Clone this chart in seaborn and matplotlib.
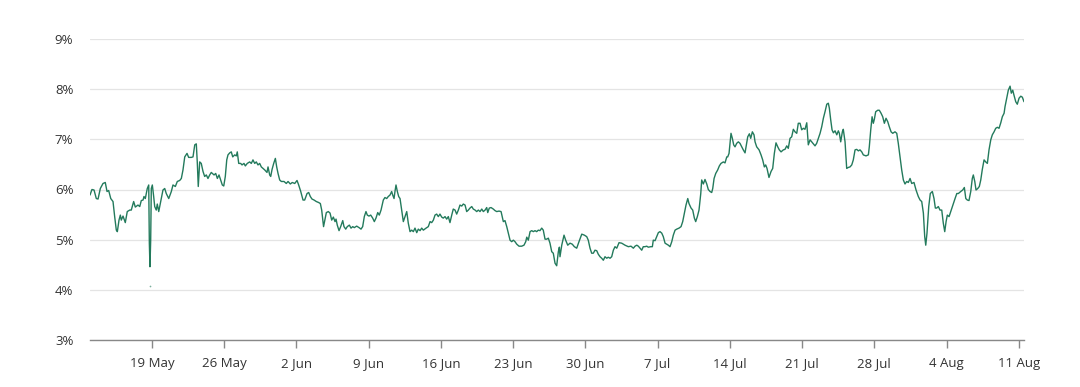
import numpy as np
import pandas as pd
import matplotlib
matplotlib.use("Agg")
import matplotlib.pyplot as plt
import matplotlib.dates as mdates
from matplotlib.ticker import FuncFormatter
import seaborn as sns

# days since 13 May 2025 00:00, and rate in %
start = pd.Timestamp("2025-05-13")
days = [
    0.00, 0.19, 0.39, 0.61, 0.78, 1.00, 1.26, 1.48, 1.65, 1.81, 2.01, 2.23, 2.39, 2.55, 2.65,
    2.81, 2.94, 3.03, 3.20, 3.42, 3.61, 3.85, 4.00, 4.23, 4.39, 4.65, 4.82, 4.97, 5.14, 5.23,
    5.36, 5.55, 5.69, 5.75, 5.81, 5.88, 5.94, 6.04, 6.17, 6.27, 6.42, 6.52, 6.66, 6.85, 7.07,
    7.24, 7.39, 7.63, 7.88, 8.04, 8.27, 8.46, 8.69, 8.85, 9.01, 9.18, 9.40, 9.56, 9.82, 9.98,
    10.15, 10.30, 10.40, 10.49, 10.63, 10.78, 10.95, 11.11, 11.27, 11.43, 11.60, 11.75, 12.02,
    12.18, 12.34, 12.50, 12.66, 12.82, 12.96, 13.11, 13.25, 13.37, 13.54, 13.69, 13.83, 14.02,
    14.18, 14.27, 14.41, 14.60, 14.73, 14.92, 15.05, 15.24, 15.47, 15.63, 15.79, 15.96, 16.11,
    16.28, 16.44, 16.60, 16.76, 16.93, 17.15, 17.25, 17.41, 17.51, 17.64, 17.80, 17.96, 18.09,
    18.22, 18.38, 18.54, 18.80, 19.02, 19.19, 19.41, 19.60, 19.84, 20.06, 20.22, 20.42, 20.64,
    20.80, 21.03, 21.19, 21.35, 21.51, 21.71, 21.93, 22.16, 22.32, 22.45, 22.63, 22.90, 23.09,
    23.26, 23.42, 23.58, 23.74, 23.84, 23.96, 24.13, 24.29, 24.49, 24.61, 24.78, 24.93, 25.13,
    25.29, 25.46, 25.61, 25.84, 26.07, 26.26, 26.42, 26.58, 26.74, 26.87, 27.03, 27.20, 27.39,
    27.55, 27.71, 27.88, 28.03, 28.20, 28.42, 28.58, 28.75, 28.90, 29.07, 29.23, 29.33, 29.46,
    29.55, 29.65, 29.78, 29.91, 30.04, 30.20, 30.36, 30.52, 30.69, 30.84, 31.01, 31.17, 31.33,
    31.49, 31.66, 31.81, 31.98, 32.14, 32.30, 32.56, 32.78, 32.95, 33.11, 33.27, 33.43, 33.59,
    33.75, 33.91, 34.08, 34.23, 34.40, 34.56, 34.72, 34.88, 35.05, 35.20, 35.37, 35.53, 35.69,
    35.85, 36.02, 36.17, 36.34, 36.50, 36.66, 36.82, 36.99, 37.14, 37.31, 37.47, 37.63, 37.79,
    37.96, 38.11, 38.28, 38.44, 38.54, 38.69, 38.86, 39.08, 39.24, 39.41, 39.63, 39.83, 40.05,
    40.21, 40.38, 40.53, 40.70, 40.86, 41.02, 41.18, 41.35, 41.57, 41.83, 42.05, 42.22, 42.32,
    42.47, 42.64, 42.80, 42.96, 43.12, 43.28, 43.44, 43.60, 43.77, 43.92, 44.09, 44.25, 44.41,
    44.57, 44.74, 44.89, 45.06, 45.22, 45.38, 45.48, 45.54, 45.71, 45.93, 46.09, 46.29, 46.51,
    46.73, 46.93, 47.16, 47.38, 47.65, 47.90, 48.13, 48.28, 48.45, 48.61, 48.77, 48.93, 49.10,
    49.25, 49.42, 49.58, 49.74, 49.90, 50.07, 50.22, 50.39, 50.55, 50.71, 50.87, 51.04, 51.26,
    51.52, 51.84, 52.16, 52.42, 52.65, 52.81, 52.98, 53.13, 53.29, 53.46, 53.61, 53.78, 53.94,
    54.10, 54.33, 54.49, 54.58, 54.75, 54.91, 55.07, 55.23, 55.40, 55.55, 55.72, 55.88, 56.04,
    56.20, 56.37, 56.52, 56.69, 56.85, 57.07, 57.27, 57.43, 57.59, 57.75, 57.92, 58.04, 58.24,
    58.40, 58.56, 58.69, 58.85, 59.01, 59.18, 59.27, 59.43, 59.59, 59.76, 59.91, 60.08, 60.24,
    60.34, 60.47, 60.63, 60.82, 60.98, 61.14, 61.37, 61.53, 61.70, 61.79, 61.92, 62.02, 62.11,
    62.24, 62.37, 62.50, 62.66, 62.82, 62.98, 63.15, 63.30, 63.47, 63.63, 63.73, 63.89, 64.02,
    64.18, 64.34, 64.44, 64.60, 64.83, 65.02, 65.18, 65.34, 65.47, 65.60, 65.79, 65.99, 66.15,
    66.31, 66.47, 66.64, 66.79, 66.96, 67.18, 67.34, 67.51, 67.66, 67.83, 67.99, 68.15, 68.31,
    68.48, 68.63, 68.80, 68.96, 69.12, 69.28, 69.45, 69.60, 69.77, 69.93, 70.09, 70.25, 70.41,
    70.57, 70.74, 70.90, 71.06, 71.22, 71.39, 71.54, 71.64, 71.77, 71.90, 72.03, 72.19, 72.36,
    72.51, 72.61, 72.74, 72.90, 72.99, 73.16, 73.32, 73.48, 73.64, 73.81, 73.96, 74.13, 74.29,
    74.45, 74.61, 74.78, 74.93, 75.19, 75.42, 75.51, 75.65, 75.78, 75.90, 76.00, 76.13, 76.33,
    76.48, 76.65, 76.81, 76.97, 77.13, 77.30, 77.45, 77.62, 77.78, 78.00, 78.17, 78.32, 78.49,
    78.65, 78.81, 78.97, 79.14, 79.29, 79.46, 79.62, 79.84, 80.04, 80.26, 80.43, 80.59, 80.75,
    80.88, 80.98, 81.10, 81.27, 81.42, 81.62, 81.78, 81.91, 82.04, 82.20, 82.36, 82.53, 82.68,
    82.82, 82.95, 83.07, 83.24, 83.40, 83.60, 83.82, 83.99, 84.14, 84.37, 84.56, 84.72, 84.86,
    85.01, 85.17, 85.34, 85.49, 85.59, 85.73, 85.85, 86.02, 86.17, 86.31, 86.46, 86.63, 86.79,
    86.95, 87.11, 87.28, 87.43, 87.60, 87.76, 87.92, 88.08, 88.25, 88.40, 88.57, 88.66, 88.83,
    88.98, 89.15, 89.27, 89.41, 89.53, 89.70, 89.85, 90.02, 90.19, 90.34, 90.50,
]
rate = [
    5.89, 6.00, 5.99, 5.82, 5.81, 6.02, 6.12, 6.14, 5.96, 5.98, 5.82, 5.76, 5.46, 5.19, 5.16,
    5.39, 5.49, 5.39, 5.47, 5.34, 5.56, 5.59, 5.59, 5.76, 5.65, 5.69, 5.66, 5.78, 5.79, 5.86,
    5.82, 6.02, 6.09, 4.93, 4.46, 4.99, 6.02, 6.09, 5.86, 5.66, 5.59, 5.71, 5.56, 5.76, 5.99,
    6.02, 5.92, 5.82, 5.96, 6.09, 6.06, 6.16, 6.18, 6.22, 6.39, 6.65, 6.72, 6.64, 6.64, 6.65,
    6.89, 6.91, 6.52, 6.06, 6.55, 6.52, 6.36, 6.26, 6.29, 6.22, 6.29, 6.34, 6.29,
    6.32, 6.22, 6.29, 6.19, 6.09, 6.07, 6.26, 6.59, 6.69, 6.73, 6.75, 6.65, 6.69,
    6.67, 6.75, 6.52, 6.52, 6.49, 6.52, 6.47, 6.52, 6.55, 6.52, 6.59, 6.52, 6.55,
    6.49, 6.52, 6.45, 6.42, 6.39, 6.34, 6.45, 6.29, 6.26, 6.40, 6.52, 6.62, 6.45,
    6.32, 6.19, 6.16, 6.16, 6.12, 6.16, 6.11, 6.14, 6.12, 6.18, 6.09, 5.96, 5.79,
    5.79, 5.92, 5.94, 5.86, 5.81, 5.79, 5.76, 5.74, 5.72, 5.59, 5.26, 5.54, 5.56,
    5.53, 5.39, 5.45, 5.36, 5.41, 5.29, 5.18, 5.26, 5.38, 5.26, 5.21, 5.26, 5.29,
    5.23, 5.26, 5.24, 5.27, 5.24, 5.21, 5.26, 5.46, 5.56, 5.49, 5.47, 5.49, 5.43,
    5.36, 5.43, 5.54, 5.49, 5.59, 5.79, 5.84, 5.82, 5.86, 5.89, 5.96, 5.89, 5.82,
    5.96, 6.09, 5.96, 5.86, 5.82, 5.59, 5.36, 5.46, 5.56, 5.33, 5.16, 5.19, 5.16,
    5.23, 5.14, 5.21, 5.18, 5.23, 5.19, 5.23, 5.26, 5.36, 5.34, 5.39, 5.49, 5.51,
    5.46, 5.51, 5.45, 5.43, 5.46, 5.41, 5.46, 5.34, 5.49, 5.61, 5.59, 5.51, 5.59,
    5.69, 5.67, 5.71, 5.69, 5.56, 5.59, 5.63, 5.66, 5.61, 5.59, 5.56, 5.59, 5.56,
    5.61, 5.56, 5.59, 5.64, 5.54, 5.63, 5.64, 5.61, 5.58, 5.56, 5.57, 5.56, 5.36,
    5.38, 5.26, 5.13, 4.99, 4.96, 4.99, 4.96, 4.91, 4.87, 4.87, 4.89, 4.96, 5.05,
    4.99, 5.16, 5.18, 5.16, 5.18, 5.16, 5.19, 5.18, 5.23, 5.19, 5.01, 5.01, 5.03,
    4.93, 4.76, 4.73, 4.53, 4.48, 4.76, 4.85, 4.66, 4.89, 5.09, 4.99, 4.89, 4.93,
    4.91, 4.86, 4.83, 4.96, 5.11, 5.09, 5.06, 4.99, 4.83, 4.73, 4.73, 4.79, 4.78,
    4.71, 4.66, 4.63, 4.59, 4.66, 4.63, 4.65, 4.63, 4.66, 4.79, 4.86, 4.83, 4.94,
    4.93, 4.89, 4.86, 4.87, 4.83, 4.87, 4.89, 4.87, 4.83, 4.79, 4.86, 4.86, 4.87,
    4.85, 4.86, 4.86, 4.99, 4.98, 5.06, 5.14, 5.16, 5.13, 5.06, 4.93, 4.91, 4.89,
    4.86, 4.96, 5.09, 5.19, 5.21, 5.23, 5.26, 5.36, 5.53, 5.69, 5.82, 5.72, 5.63,
    5.59, 5.43, 5.36, 5.46, 5.59, 5.92, 6.19, 6.11, 6.20, 6.11, 6.00, 5.96, 5.94,
    6.02, 6.22, 6.32, 6.39, 6.47, 6.52, 6.55, 6.53, 6.65, 6.65, 6.72, 6.92, 7.12,
    7.02, 6.89, 6.85, 6.92, 6.95, 6.92, 6.85, 6.79, 6.73, 6.92, 7.05, 7.11, 7.02,
    7.15, 7.09, 6.95, 6.85, 6.79, 6.69, 6.59, 6.45, 6.49, 6.42, 6.24, 6.36, 6.42,
    6.72, 6.93, 6.85, 6.79, 6.75, 6.79, 6.80, 6.87, 6.82, 7.02, 7.05, 7.20, 7.15,
    7.12, 7.32, 7.32, 7.19, 7.22, 7.20, 7.33, 6.89, 6.99, 6.95, 6.91, 6.87, 6.92,
    7.02, 7.12, 7.25, 7.42, 7.55, 7.70, 7.72, 7.62, 7.39, 7.19, 7.13, 7.17, 7.09,
    7.17, 7.12, 6.95, 7.15, 7.20, 6.95, 6.42, 6.44, 6.45, 6.49, 6.59, 6.79, 6.80,
    6.77, 6.79, 6.75, 6.69, 6.67, 6.69, 6.85, 7.19, 7.45, 7.32, 7.40, 7.55, 7.58,
    7.58, 7.52, 7.45, 7.32, 7.42, 7.35, 7.25, 7.15, 7.12, 7.15, 7.12, 6.92, 6.65,
    6.39, 6.19, 6.11, 6.16, 6.14, 6.22, 6.12, 6.14, 5.99, 5.86, 5.79, 5.76, 5.53,
    5.06, 4.89, 5.13, 5.66, 5.92, 5.96, 5.82, 5.63, 5.63, 5.66, 5.59, 5.59, 5.33,
    5.16, 5.36, 5.49, 5.46, 5.56, 5.69, 5.82, 5.92, 5.92, 5.96, 5.99, 6.04, 5.82,
    5.79, 5.78, 5.96, 6.22, 6.29, 6.16, 5.99, 6.02, 6.06, 6.19, 6.40, 6.59, 6.55,
    6.52, 6.79, 6.99, 7.09, 7.15, 7.22, 7.24, 7.22, 7.33, 7.45, 7.52, 7.65, 7.82,
    7.98, 8.06, 7.92, 7.98, 7.88, 7.75, 7.70, 7.82, 7.86, 7.84, 7.75,
]
# lone reading drawn as a dot below the 19 May dip
stray_day = [5.86]
stray_rate = [4.08]

y_ticks = [3, 4, 5, 6, 7, 8, 9]
x_end_day = 90.5

df = pd.DataFrame({"time": start + pd.to_timedelta(days, unit="D"), "rate": rate})
stray = pd.DataFrame({"time": start + pd.to_timedelta(stray_day, unit="D"), "rate": stray_rate})

sns.set_theme(style="white")
plt.rcParams["font.family"] = ["Open Sans", "DejaVu Sans"]

line_color = "#237a5c"

fig = plt.figure(figsize=(10.8, 3.87), dpi=100)
ax = fig.add_axes([90 / 1080, 1 - 340 / 387, (1024 - 90) / 1080, (340 - 39) / 387])

sns.lineplot(data=df, x="time", y="rate", ax=ax, color=line_color,
             linewidth=1.0, estimator=None, sort=False)
sns.scatterplot(data=stray, x="time", y="rate", ax=ax, color=line_color,
                s=1.5, linewidth=0, alpha=0.6)

ax.set_xlim(start, start + pd.Timedelta(days=x_end_day))
ax.set_ylim(y_ticks[0], y_ticks[-1])
ax.set_yticks(y_ticks)
ax.yaxis.set_major_formatter(FuncFormatter(lambda v, _: f"{v:.0f}%"))
ax.grid(True, axis="y", color="#e4e4e4", linewidth=0.9)
ax.grid(False, axis="x")

ax.xaxis.set_major_locator(mdates.WeekdayLocator(byweekday=mdates.MO))
ax.xaxis.set_major_formatter(mdates.DateFormatter("%-d %b"))

for side in ["top", "right", "left"]:
    ax.spines[side].set_visible(False)
ax.spines["bottom"].set_color("#888888")
ax.spines["bottom"].set_linewidth(1.0)

ax.tick_params(axis="x", length=6, width=1.0, color="#888888", pad=6,
               labelsize=9.5, labelcolor="#333333", bottom=True)
ax.tick_params(axis="y", length=0, pad=12, labelsize=9.5, labelcolor="#333333")
ax.set_xlabel("")
ax.set_ylabel("")

fig.savefig("out.png", dpi=100)
